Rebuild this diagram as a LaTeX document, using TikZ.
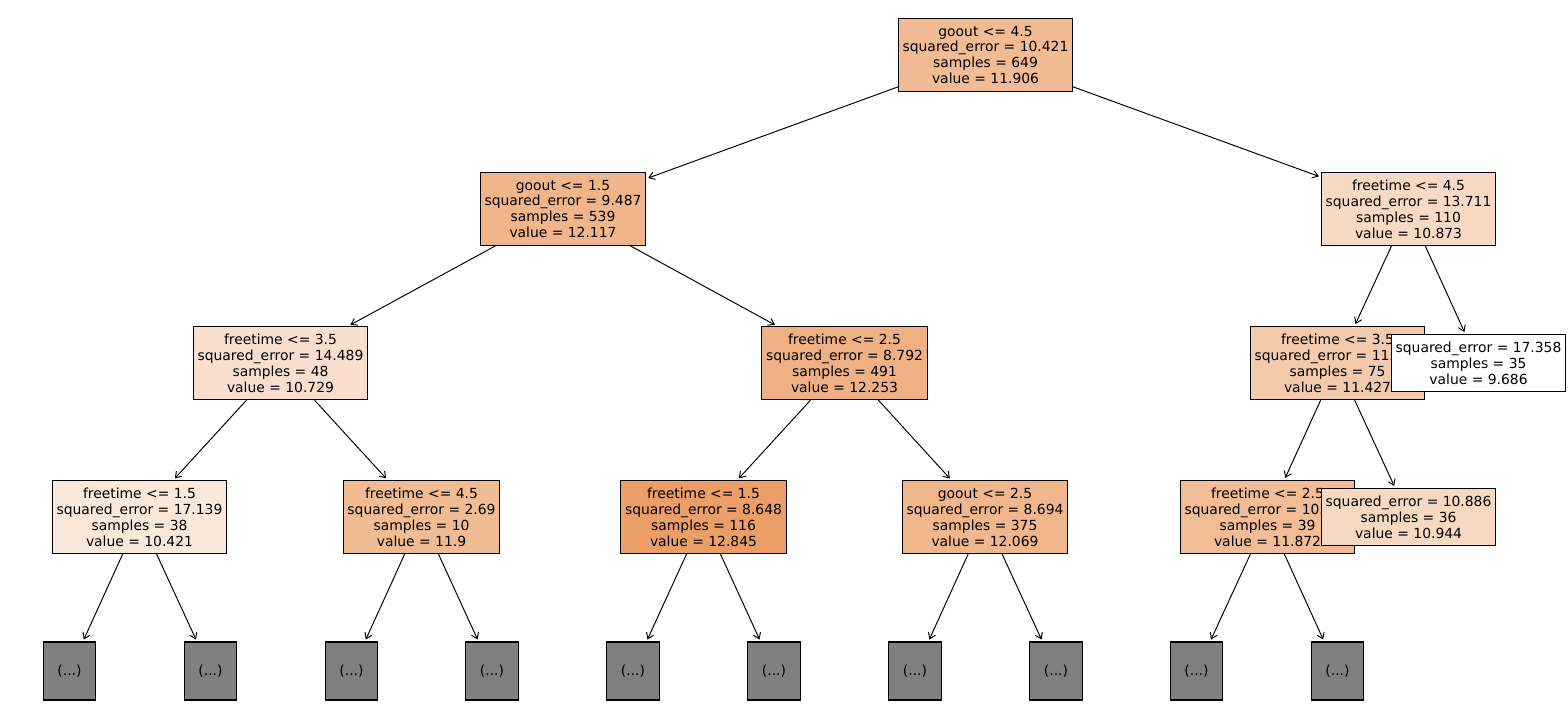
\documentclass[tikz,border=0pt]{standalone}
\usepackage{fontspec}
\setmainfont{DejaVu Sans}
\usetikzlibrary{arrows.meta}
\definecolor{SplitClr}{RGB}{229,129,57}
\definecolor{MoreClr}{RGB}{128,128,128}

\begin{document}
\begin{tikzpicture}[x=0.72pt,y=-0.72pt,
  box/.style={draw,line width=0.8pt,align=center,inner xsep=3pt,inner ysep=5.2pt,
    font=\fontsize{10}{11.5}\selectfont},
  more/.style={draw,line width=0.8pt,fill=MoreClr,minimum width=38pt,minimum height=41.8pt,
    inner sep=0pt,font=\fontsize{10}{11.5}\selectfont},
  edge/.style={-{Straight Barb[length=4pt,width=5.5pt]},line width=0.7pt,shorten >=1.5pt}]
\useasboundingbox (0,0) rectangle (1568,720);

\node[box,fill=SplitClr!54!white] (n0) at (985.5,55) {goout <= 4.5\\squared\_error = 10.421\\samples = 649\\value = 11.906};

\node[box,fill=SplitClr!59!white] (n1) at (563,209) {goout <= 1.5\\squared\_error = 9.487\\samples = 539\\value = 12.117};
\node[box,fill=SplitClr!25!white] (n2) at (280.5,363) {freetime <= 3.5\\squared\_error = 14.489\\samples = 48\\value = 10.729};
\node[box,fill=SplitClr!18!white] (n3) at (139.5,517) {freetime <= 1.5\\squared\_error = 17.139\\samples = 38\\value = 10.421};
\node[box,fill=SplitClr!54!white] (n4) at (421.5,517) {freetime <= 4.5\\squared\_error = 2.69\\samples = 10\\value = 11.9};
\node[box,fill=SplitClr!62!white] (n5) at (844.5,363) {freetime <= 2.5\\squared\_error = 8.792\\samples = 491\\value = 12.253};
\node[box,fill=SplitClr!77!white] (n6) at (703.5,517) {freetime <= 1.5\\squared\_error = 8.648\\samples = 116\\value = 12.845};
\node[box,fill=SplitClr!58!white] (n7) at (985,517) {goout <= 2.5\\squared\_error = 8.694\\samples = 375\\value = 12.069};

\node[box,fill=SplitClr!29!white] (n8) at (1408.5,209) {freetime <= 4.5\\squared\_error = 13.711\\samples = 110\\value = 10.873};
\node[box,fill=SplitClr!42!white] (n9) at (1337.5,363) {freetime <= 3.5\\squared\_error = 11.969\\samples = 75\\value = 11.427};
\node[box,fill=SplitClr!53!white] (n10) at (1267.5,517) {freetime <= 2.5\\squared\_error = 10.712\\samples = 39\\value = 11.872};
\node[box,fill=SplitClr!31!white] (n11) at (1408.5,517) {squared\_error = 10.886\\samples = 36\\value = 10.944};
\node[box,fill=white] (n12) at (1478.5,363) {squared\_error = 17.358\\samples = 35\\value = 9.686};

\foreach \i/\x in {13/69.5,14/210.5,15/351.5,16/492,17/633,18/774,19/915,20/1056,21/1196.5,22/1337.5}
  \node[more] (n\i) at (\x,671) {(...)};

\draw[edge] (n0) -- (n1);
\draw[edge] (n0) -- (n8);
\draw[edge] (n1) -- (n2);
\draw[edge] (n1) -- (n5);
\draw[edge] (n2) -- (n3);
\draw[edge] (n2) -- (n4);
\draw[edge] (n5) -- (n6);
\draw[edge] (n5) -- (n7);
\draw[edge] (n8) -- (n9);
\draw[edge] (n8) -- (n12);
\draw[edge] (n9) -- (n10);
\draw[edge] (n9) -- (n11);
\draw[edge] (n3) -- (n13);
\draw[edge] (n3) -- (n14);
\draw[edge] (n4) -- (n15);
\draw[edge] (n4) -- (n16);
\draw[edge] (n6) -- (n17);
\draw[edge] (n6) -- (n18);
\draw[edge] (n7) -- (n19);
\draw[edge] (n7) -- (n20);
\draw[edge] (n10) -- (n21);
\draw[edge] (n10) -- (n22);
\end{tikzpicture}
\end{document}
